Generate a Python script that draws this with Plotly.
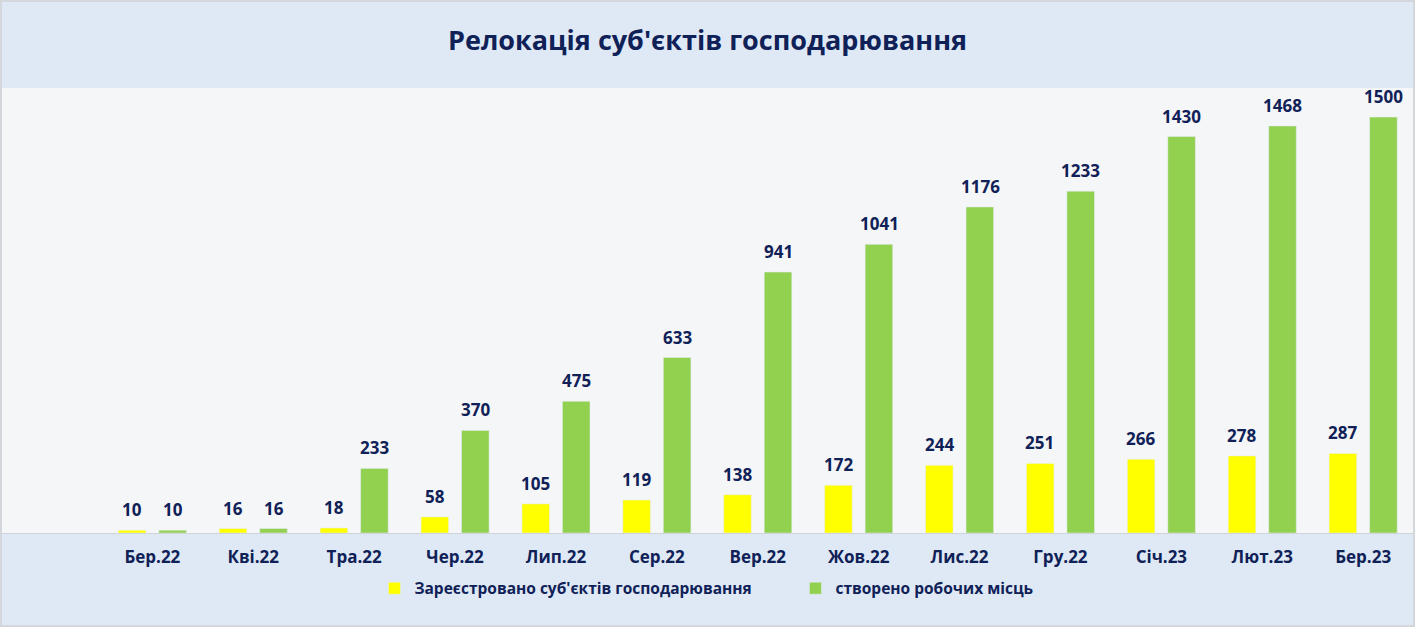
import plotly.graph_objects as go

months = ["Бер.22", "Кві.22", "Тра.22", "Чер.22", "Лип.22", "Сер.22", "Вер.22",
          "Жов.22", "Лис.22", "Гру.22", "Січ.23", "Лют.23", "Бер.23"]
registered = [10, 16, 18, 58, 105, 119, 138, 172, 244, 251, 266, 278, 287]
jobs = [10, 16, 233, 370, 475, 633, 941, 1041, 1176, 1233, 1430, 1468, 1500]

navy = "#0f2157"
font_name = "Open Sans"

fig = go.Figure()
fig.add_trace(go.Bar(
    x=months, y=registered, name="<b>Зареєстровано суб'єктів господарювання</b>",
    marker_color="#ffff00",
))
fig.add_trace(go.Bar(
    x=months, y=jobs, name="<b>створено робочих місць</b>",
    marker_color="#92d050",
))

# value labels above bars (offset to the bar inside each group)
for vals, shift in [(registered, -20.5), (jobs, 20.5)]:
    for m, v in zip(months, vals):
        fig.add_annotation(x=m, y=v, text="<b>%d</b>" % v, showarrow=False,
                           xshift=shift, yshift=7, yanchor="bottom",
                           font=dict(size=17, color=navy, family=font_name))

fig.update_layout(
    width=1415, height=627,
    margin=dict(l=0, r=2, t=88, b=94),
    paper_bgcolor="#dee9f5",
    plot_bgcolor="#f5f6f7",
    barmode="group", bargap=0.197, bargroupgap=0.32,
    title=dict(text="<b>Релокація суб'єктів господарювання</b>",
               x=0.5, xanchor="center", y=0.936, yanchor="middle",
               font=dict(size=27, color=navy, family=font_name)),
    font=dict(family=font_name, color=navy),
    showlegend=True,
    legend=dict(orientation="h", x=0.265, xanchor="left", y=-0.125, yanchor="middle",
                font=dict(size=15.5, color=navy, family=font_name),
                itemwidth=30, traceorder="normal", entrywidth=376,
                bgcolor="rgba(0,0,0,0)"),
)
fig.update_xaxes(range=[-1.51, 12.494], showgrid=False, showline=True,
                 linecolor="#d0d4d8", linewidth=1,
                 ticks="outside", ticklen=9, tickcolor="rgba(0,0,0,0)",
                 tickvals=months, ticktext=["<b>%s</b>" % m for m in months],
                 tickfont=dict(size=17, color=navy, family=font_name))
fig.update_yaxes(range=[0, 1605], visible=False, showgrid=False)

fig.add_shape(type="rect", xref="paper", yref="paper",
              x0=0.0007, x1=1.0007, y0=-0.2090, y1=1.1955,
              line=dict(color="#d3d6da", width=2), layer="above")

fig.write_html("out.html", config={"displayModeBar": False},
               post_script="document.body.style.margin='0';")
